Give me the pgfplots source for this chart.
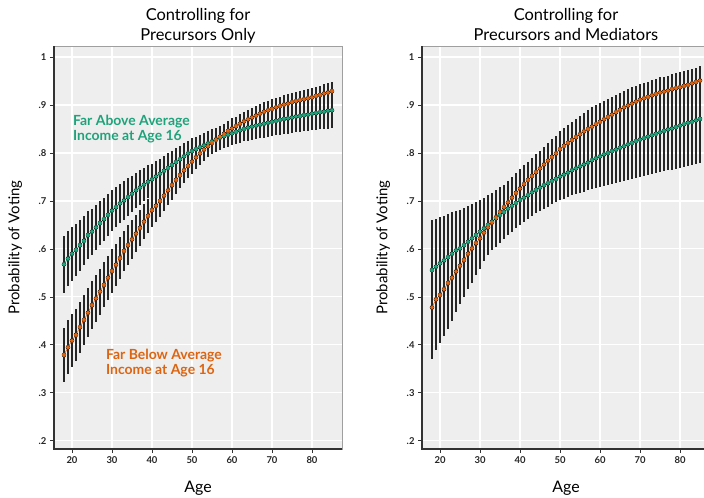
\documentclass[border=0pt]{standalone}
\usepackage{pgfplots}
\pgfplotsset{compat=1.18}
\usepackage{pgfplotstable}
\usepackage{fontspec}
\setmainfont{Lato}
\definecolor{cgreen}{HTML}{1FA37A}
\definecolor{corange}{HTML}{DD6410}
\definecolor{bgray}{HTML}{EEEEEE}

\pgfplotstableread{
a g ge o oe
18 .568 .060 .379 .057
19 .580 .058 .395 .056
20 .590 .056 .409 .055
21 .598 .054 .421 .054
22 .608 .053 .437 .053
23 .617 .051 .452 .052
24 .629 .050 .467 .051
25 .636 .048 .483 .050
26 .645 .047 .497 .049
27 .654 .046 .511 .048
28 .662 .045 .525 .047
29 .671 .044 .540 .046
30 .680 .043 .554 .045
31 .687 .042 .567 .044
32 .695 .041 .581 .043
33 .701 .040 .596 .042
34 .708 .039 .608 .041
35 .715 .038 .620 .040
36 .722 .037 .632 .039
37 .728 .036 .644 .038
38 .734 .035 .657 .037
39 .740 .034 .669 .036
40 .745 .033 .681 .035
41 .751 .032 .690 .034
42 .757 .031 .700 .033
43 .763 .031 .711 .032
44 .769 .030 .722 .031
45 .775 .029 .733 .030
46 .781 .029 .744 .029
47 .787 .028 .754 .028
48 .793 .028 .764 .027
49 .799 .027 .773 .026
50 .804 .027 .782 .026
51 .808 .026 .791 .025
52 .812 .026 .799 .024
53 .816 .026 .807 .024
54 .820 .025 .814 .023
55 .824 .025 .821 .023
56 .828 .025 .828 .022
57 .832 .025 .834 .022
58 .835 .025 .840 .021
59 .838 .025 .846 .021
60 .841 .025 .851 .021
61 .844 .026 .856 .020
62 .847 .026 .861 .020
63 .850 .026 .866 .020
64 .853 .027 .870 .020
65 .855 .027 .874 .020
66 .857 .028 .878 .020
67 .859 .028 .882 .020
68 .861 .029 .886 .020
69 .863 .029 .889 .020
70 .865 .030 .892 .020
71 .867 .030 .895 .019
72 .869 .031 .898 .019
73 .871 .031 .901 .019
74 .872 .032 .903 .019
75 .874 .032 .906 .019
76 .876 .033 .908 .019
77 .877 .033 .910 .019
78 .879 .034 .912 .019
79 .880 .034 .914 .019
80 .882 .035 .916 .019
81 .883 .035 .919 .019
82 .885 .036 .921 .019
83 .886 .036 .924 .019
84 .888 .037 .926 .019
85 .889 .037 .929 .019
}\Ltab

\pgfplotstableread{
a g ge o oe
18 .556 .104 .478 .108
19 .563 .100 .495 .106
20 .570 .097 .504 .101
21 .576 .093 .516 .097
22 .583 .090 .529 .095
23 .590 .087 .540 .090
24 .597 .083 .553 .085
25 .601 .080 .565 .080
26 .608 .077 .577 .077
27 .615 .074 .590 .074
28 .622 .071 .601 .071
29 .629 .068 .612 .067
30 .636 .066 .622 .063
31 .643 .064 .634 .060
32 .650 .062 .645 .057
33 .657 .060 .655 .054
34 .664 .059 .666 .051
35 .671 .058 .677 .049
36 .677 .056 .687 .047
37 .684 .055 .697 .045
38 .690 .054 .707 .043
39 .696 .053 .717 .041
40 .702 .052 .726 .040
41 .707 .051 .735 .039
42 .712 .050 .744 .038
43 .718 .050 .752 .038
44 .723 .049 .760 .037
45 .728 .049 .768 .037
46 .733 .049 .776 .037
47 .737 .049 .784 .037
48 .742 .049 .792 .037
49 .746 .049 .799 .037
50 .751 .049 .808 .037
51 .755 .050 .815 .037
52 .759 .051 .821 .038
53 .764 .052 .827 .038
54 .768 .054 .833 .038
55 .772 .055 .839 .039
56 .776 .057 .845 .039
57 .780 .058 .850 .039
58 .785 .060 .855 .040
59 .789 .061 .860 .040
60 .793 .063 .865 .040
61 .797 .065 .870 .039
62 .800 .066 .875 .038
63 .804 .068 .880 .037
64 .807 .069 .885 .036
65 .811 .071 .890 .035
66 .814 .072 .895 .035
67 .818 .074 .899 .034
68 .821 .075 .903 .034
69 .825 .077 .907 .033
70 .828 .078 .911 .033
71 .831 .079 .914 .032
72 .834 .080 .917 .032
73 .837 .081 .920 .032
74 .840 .082 .923 .032
75 .843 .083 .926 .032
76 .846 .084 .928 .031
77 .849 .085 .930 .031
78 .851 .086 .933 .031
79 .854 .087 .935 .031
80 .857 .088 .937 .031
81 .860 .089 .940 .030
82 .863 .090 .942 .030
83 .865 .090 .945 .030
84 .868 .091 .948 .030
85 .871 .092 .951 .030
}\Rtab

\pgfplotsset{
  panel/.style={
    scale only axis, width=288bp, height=403bp,
    xmin=15.5, xmax=87.5, ymin=0.183, ymax=1.023,
    axis background/.style={fill=bgray},
    axis line style={draw=gray!75, line width=0.8bp},
    grid=major, major grid style={white, line width=1.1bp},
    xtick={20,30,40,50,60,70,80}, xticklabels={20,30,40,50,60,70,80},
    ytick={.2,.3,.4,.5,.6,.7,.8,.9,1}, yticklabels={.2,.3,.4,.5,.6,.7,.8,.9,1},
    tick align=outside, tick pos=left,
    major tick length=4bp, tick style={black!80, line width=0.8bp},
    tick label style={font=\fontsize{9.5}{10}\selectfont\bfseries, text=black!85},
    title style={font=\fontsize{16.5}{20}\selectfont, align=center, at={(axis description cs:0.5,1)}, anchor=south, yshift=-7bp},
    xlabel style={font=\fontsize{16}{18}\selectfont, at={(axis description cs:0.5,-0.097)}, anchor=center},
    ylabel style={font=\fontsize{15}{17}\selectfont, at={(axis description cs:-0.135,0.5)}, anchor=center},
    xlabel={Age}, ylabel={Probability of Voting},
    extra description/.code={\draw[black!80, line width=2bp] (axis description cs:0,1) -- (axis description cs:0,0) -- (axis description cs:1,0);},
  },
  ebar/.style={only marks, mark=none, forget plot, error bars/.cd, y dir=both, y explicit, error mark=none, error bar style={black!85, line width=1.3bp}},
  ser/.style={draw=#1, line width=0.6bp, mark=*, mark size=1.8bp, mark options={draw=none, fill=#1}},
}

\begin{document}
\begin{tikzpicture}
\useasboundingbox (0,0) rectangle (704bp,498bp);
\begin{axis}[panel, at={(54bp,49bp)}, anchor=south west, title={Controlling for\\Precursors Only\vphantom{y}}]
  \addplot[ebar] table[x=a, y=g, y error=ge] {\Ltab};
  \addplot[ebar] table[x=a, y=o, y error=oe] {\Ltab};
  \addplot[ser=cgreen] table[x=a, y=g] {\Ltab};
  \addplot[ser=corange] table[x=a, y=o] {\Ltab};
  \node[anchor=west, inner sep=0pt, align=left, text=cgreen, font=\fontsize{14}{14.5}\selectfont\bfseries] at (axis cs:20.25,0.85) {Far Above Average\\Income at Age 16};
  \node[anchor=west, inner sep=0pt, align=left, text=corange, font=\fontsize{14}{14.5}\selectfont\bfseries] at (axis cs:28.5,0.3625) {Far Below Average\\Income at Age 16};
\end{axis}
\begin{axis}[panel, at={(422bp,49bp)}, anchor=south west, title={Controlling for\\Precursors and Mediators\vphantom{y}}]
  \addplot[ebar] table[x=a, y=g, y error=ge] {\Rtab};
  \addplot[ebar] table[x=a, y=o, y error=oe] {\Rtab};
  \addplot[ser=cgreen] table[x=a, y=g] {\Rtab};
  \addplot[ser=corange] table[x=a, y=o] {\Rtab};
\end{axis}
\end{tikzpicture}
\end{document}
